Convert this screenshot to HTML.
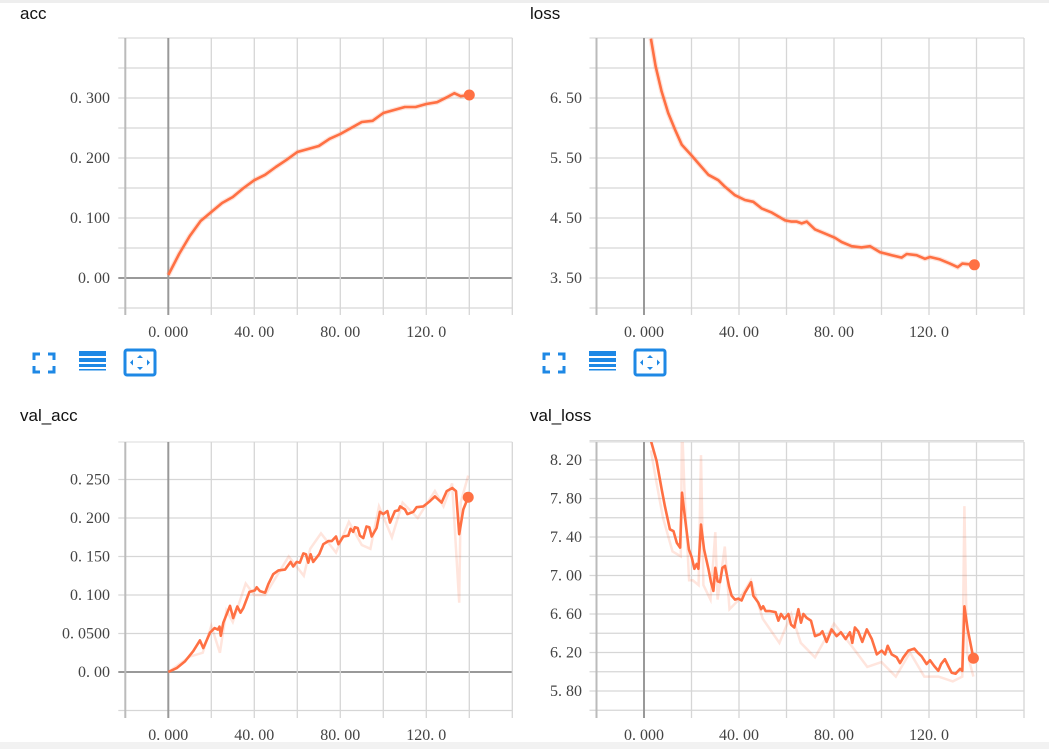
<!DOCTYPE html>
<html><head><meta charset="utf-8">
<style>
html,body{margin:0;padding:0;background:#fff;width:1049px;height:749px;overflow:hidden}
svg{display:block}
.title{font-family:"Liberation Sans",sans-serif;font-size:17px;fill:#111}
.tick{font-family:"Liberation Serif","Noto Serif CJK SC",serif;font-size:16px;fill:#444}
</style></head><body>
<svg id="root" width="1049" height="749" xmlns="http://www.w3.org/2000/svg">
<rect x="0" y="0" width="1049" height="3" fill="#eee"/>
<rect x="0" y="742" width="1049" height="7" fill="#f2f2f2"/>
</svg>
<script>
// acc
const accSteps=[0,5,10,15,20,25,30,35,40,45,50,55,60,65,70,75,80,85,90,95,100,105,110,115,120,125,130,133,136,140];
const accVals=[0.005,0.04,0.07,0.095,0.11,0.125,0.135,0.15,0.163,0.172,0.185,0.197,0.21,0.215,0.22,0.232,0.24,0.25,0.26,0.262,0.275,0.28,0.285,0.285,0.29,0.293,0.302,0.308,0.303,0.305];
// loss
const lossSteps=[2.9,4.9,7.4,10.2,13.1,15.9,20.1,22.9,27.1,31.3,34.1,38.3,42.5,46,49.5,53.8,59.4,62.2,64.3,66.4,68.5,72,76.2,80.4,83.2,87.4,91.6,95.2,99.4,104.3,108.5,110.6,114.8,118.3,120.4,124.6,128.8,132.1,134,139.1];
const lossVals=[7.49,7.03,6.61,6.25,5.97,5.72,5.54,5.41,5.22,5.13,5.02,4.88,4.80,4.77,4.66,4.59,4.46,4.44,4.44,4.41,4.44,4.31,4.24,4.17,4.10,4.03,4.01,4.03,3.93,3.88,3.84,3.90,3.88,3.82,3.85,3.81,3.74,3.68,3.74,3.72];
// val_acc
const vaccSteps=[0,3.9,7.8,11.6,14.7,16.3,19.4,21.5,23,23.8,24.4,25.6,28.7,30.2,32.1,33.6,34.9,37.7,40.3,41.1,42.6,45,46.5,48.8,51.2,54.3,56.9,58.1,59.7,61.2,62.8,64,65.1,66.2,67.4,70.2,72.1,74.4,76,78,79.1,81.4,83.7,84.8,86,86.8,88.1,89.1,90.7,92.2,93.5,94.6,96.9,98.4,100,101.9,103.1,105.4,107,107.8,110.1,111.2,114,115.5,118.6,121.7,124,127.1,129.5,132.1,133.8,135.3,137.2,139.5];
const vaccVals=[0,0.005,0.014,0.027,0.041,0.031,0.051,0.057,0.055,0.059,0.047,0.064,0.086,0.07,0.085,0.077,0.083,0.104,0.106,0.11,0.105,0.103,0.114,0.127,0.132,0.133,0.143,0.137,0.143,0.142,0.154,0.153,0.142,0.153,0.143,0.153,0.166,0.17,0.17,0.176,0.166,0.176,0.177,0.186,0.182,0.188,0.187,0.177,0.174,0.189,0.188,0.176,0.187,0.208,0.205,0.209,0.194,0.209,0.21,0.215,0.211,0.205,0.208,0.214,0.215,0.222,0.228,0.22,0.235,0.239,0.235,0.179,0.211,0.227];
const vaccRawSteps=[0,10,16,20,24,27,30,36,40,45,56,63,66,71,78,84,90,94,98,104,109,116,124,128,132,135.3,136,139.5];
const vaccRawVals=[0,0.02,0.025,0.06,0.025,0.08,0.065,0.115,0.1,0.1,0.15,0.125,0.16,0.18,0.155,0.195,0.165,0.16,0.215,0.175,0.22,0.2,0.235,0.215,0.245,0.09,0.22,0.255];
// val_loss
const vlossSteps=[2.9,5.3,7.4,8.8,10.9,12.4,13.8,15.2,16,17.3,18.9,20.1,21.2,22.2,22.9,24,25.3,27.1,28.2,29.2,30,31,32,33,34.1,35.8,36.9,38.3,39.7,41.1,42.5,45.1,46,48.1,49.3,50.2,51.2,53.1,55.4,56.6,57.7,59.1,60.8,61.9,63.3,65,66.1,67.1,68.5,70.3,72,74.1,75.1,76.9,79,81.1,82.9,84.9,86.7,87.7,88.8,90.2,91.9,93.8,95.9,98,100.1,101.5,102.6,104.3,106.4,107.8,109.2,111.3,113.8,115.2,116.9,119,120.4,122.2,123.9,125.1,126.7,128.1,129.5,131.2,133.1,134,134.9,136.3,138.7];
const vlossVals=[8.4,8.19,7.9,7.72,7.48,7.46,7.34,7.29,7.86,7.59,7.27,7.19,7.07,7.12,7.07,7.53,7.27,7.07,6.93,6.84,7.08,6.94,6.93,7.08,7.1,6.89,6.79,6.75,6.76,6.74,6.82,6.93,6.79,6.72,6.65,6.68,6.63,6.63,6.62,6.53,6.6,6.55,6.6,6.49,6.46,6.65,6.51,6.6,6.56,6.53,6.37,6.39,6.42,6.31,6.44,6.37,6.41,6.34,6.41,6.3,6.46,6.42,6.31,6.44,6.34,6.18,6.22,6.18,6.27,6.18,6.15,6.09,6.15,6.22,6.24,6.2,6.16,6.08,6.12,6.06,6.01,6.08,6.13,6.06,5.99,5.98,6.03,6.01,6.68,6.44,6.14];
const vlossRawSteps=[2.9,5,8,12,15.5,16,17,19,20.5,23,24,25,28,30,31,34,36,40,45,50,57,62,66,72,80,88,94,100,106,112,118,124,130,134,134.9,136,138.7];
const vlossRawVals=[8.3,8.0,7.6,7.25,7.2,8.6,7.9,6.95,6.95,6.9,8.25,6.9,6.75,7.45,6.75,7.3,6.65,6.75,6.95,6.55,6.3,6.6,6.3,6.15,6.5,6.25,6.05,6.1,5.95,6.2,5.95,5.95,5.9,5.95,7.72,6.2,5.95];

const yTickAcc=[0,0.1,0.2,0.3], yTickAccLbl=["0. 00","0. 100","0. 200","0. 300"];
const yTickLoss=[3.5,4.5,5.5,6.5], yTickLossLbl=["3. 50","4. 50","5. 50","6. 50"];
const yTickVacc=[0,0.05,0.1,0.15,0.2,0.25], yTickVaccLbl=["0. 00","0. 0500","0. 100","0. 150","0. 200","0. 250"];
const yTickVloss=[5.8,6.2,6.6,7.0,7.4,7.8,8.2], yTickVlossLbl=["5. 80","6. 20","6. 60","7. 00","7. 40","7. 80","8. 20"];
const xTicks=[0,40,80,120], xTickLbl=["0. 000","40. 00","80. 00","120. 0"];

const NS="http://www.w3.org/2000/svg";
const root=document.getElementById('root');
function mk(tag,attrs,parent){const e=document.createElementNS(NS,tag);for(const k in attrs)e.setAttribute(k,attrs[k]);(parent||root).appendChild(e);return e;}

function panel(id,o){
  const g=mk('g',{});
  
  
  const xs=v=>o.x0+o.kx*v, ys=v=>o.y0-o.ky*(v-o.v0);
  const t=mk('text',{x:o.tx,y:o.ty,'class':'title'},g); t.textContent=id;
  
  
  const L=o.x0-20*o.kx, R=o.x0+160*o.kx, T=o.top, B=o.bot;
  for(let v=o.gmin; v<=o.gmax+1e-9; v+=o.gstep){
    const y=ys(v); const zero=Math.abs(v)<1e-9 && o.zeroH;
    const ln=mk('line',{x1:L-7,x2:R,y1:y,y2:y,stroke:zero?'#999':'#d6d6d6','stroke-width':zero?2:1.3},g);
    
    
  }
  mk('line',{x1:L-7,x2:R,y1:T,y2:T,stroke:'#e2e2e2','stroke-width':1.3},g);
  for(let v=-20; v<=160; v+=20){
    const x=xs(v); const zero=v===0;
    const ln=mk('line',{x1:x,x2:x,y1:T,y2:B+7,stroke:zero?'#999':(v===-20?'#bbb':'#d6d6d6'),'stroke-width':zero||v===-20?2:1.3},g);
    
    
  }
  o.yt.forEach((v,i)=>{const e=mk('text',{x:o.lx,y:ys(v)+5,'text-anchor':'end','class':'tick'},g);e.textContent=o.yl[i];
    
    });
  xTicks.forEach((v,i)=>{const e=mk('text',{x:xs(v),y:B+29,'text-anchor':'middle','class':'tick'},g);e.textContent=xTickLbl[i];
    
    });
  const cp=mk('clipPath',{id:'c'+id},g); mk('rect',{x:L,y:T,width:R-L,height:B-T},cp);
  const pts=(s,v)=>s.map((x,i)=>xs(x).toFixed(1)+','+ys(v[i]).toFixed(1)).join(' ');
  if(o.rs){const r=mk('polyline',{points:pts(o.rs,o.rv),fill:'none',stroke:'rgba(255,112,67,0.18)','stroke-width':2.5,'clip-path':'url(#c'+id+')'},g);
    
    }
  else {const r=mk('polyline',{points:pts(o.s,o.v),fill:'none',stroke:'rgba(255,112,67,0.2)','stroke-width':5,'clip-path':'url(#c'+id+')'},g);
    
    }
  const p=mk('polyline',{points:pts(o.s,o.v),fill:'none',stroke:'#ff7043','stroke-width':2.6,'stroke-linejoin':'round','clip-path':'url(#c'+id+')'},g);
  
  
  const n=o.s.length-1;
  const d=mk('circle',{cx:xs(o.s[n]),cy:ys(o.v[n]),r:5.5,fill:'#ff7043'},g);
  
  
}
const LK=2.15, RK=2.375;
panel('acc',{tx:20,ty:19,x0:168.3,kx:LK,y0:278,ky:600,v0:0,top:38,bot:308,gmin:-0.05,gmax:0.4,gstep:0.05,zeroH:true,yt:yTickAcc,yl:yTickAccLbl,lx:110,s:accSteps,v:accVals});
panel('loss',{tx:530,ty:19,x0:644,kx:RK,y0:278,ky:60,v0:3.5,top:38,bot:308,gmin:3.0,gmax:7.5,gstep:0.5,zeroH:false,yt:yTickLoss,yl:yTickLossLbl,lx:582,s:lossSteps,v:lossVals});
panel('val_acc',{tx:20,ty:421,x0:168.3,kx:LK,y0:672,ky:770,v0:0,top:442,bot:711,gmin:-0.05,gmax:0.25,gstep:0.05,zeroH:true,yt:yTickVacc,yl:yTickVaccLbl,lx:110,s:vaccSteps,v:vaccVals,rs:vaccRawSteps,rv:vaccRawVals});
panel('val_loss',{tx:530,ty:421,x0:644,kx:RK,y0:691,ky:96.25,v0:5.8,top:442,bot:711,gmin:5.6,gmax:8.4,gstep:0.2,zeroH:false,yt:yTickVloss,yl:yTickVlossLbl,lx:582,s:vlossSteps,v:vlossVals,rs:vlossRawSteps,rv:vlossRawVals});

function icons(x0,pfx){
  const b='#1e88e5';
  const g1=mk('g',{fill:'none',stroke:b,'stroke-width':3});
  
  
  mk('path',{d:`M${x0} ${360}v-6h6 M${x0+14} 354h6v6 M${x0+20} 366v6h-6 M${x0+6} 372h-6v-6`},g1);
  const g2=mk('g',{fill:b});
  
  
  mk('rect',{x:x0+45,y:351,width:27,height:5},g2);
  mk('rect',{x:x0+45,y:358,width:27,height:4},g2);
  mk('rect',{x:x0+45,y:364,width:27,height:3},g2);
  mk('rect',{x:x0+45,y:369,width:27,height:1.5},g2);
  const g3=mk('g',{});
  
  
  mk('rect',{x:x0+91,y:350,width:30,height:25,rx:2,fill:'none',stroke:b,'stroke-width':3},g3);
  mk('path',{d:`M${x0+106} 355l-3 3h6z M${x0+106} 370l-3 -3h6z M${x0+96} 362.5l3 -3v6z M${x0+116} 362.5l-3 -3v6z`,fill:b},g3);
}
icons(34,'acc'); icons(544,'loss');
</script>
</body></html>
